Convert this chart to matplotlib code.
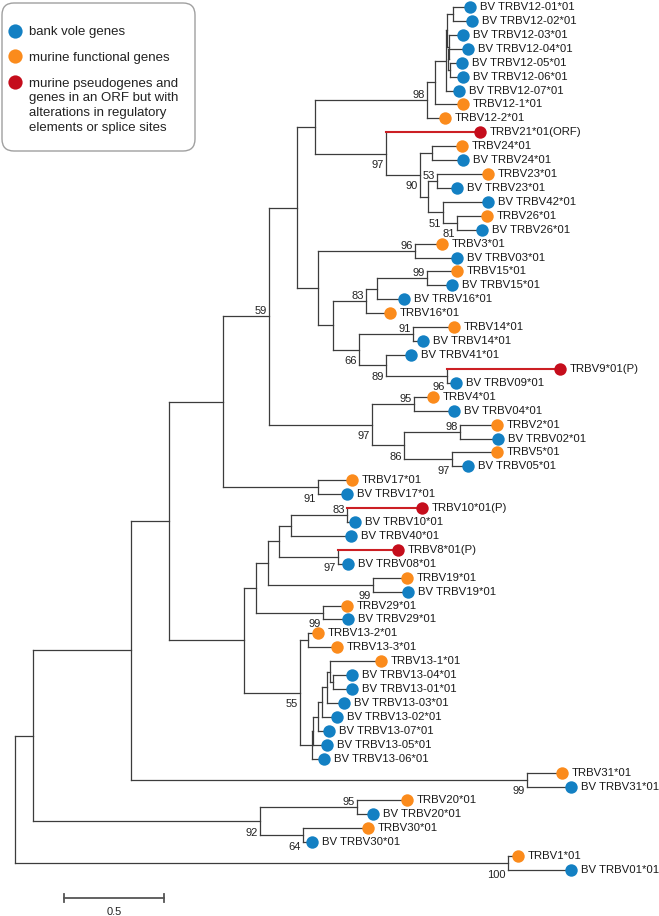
import matplotlib
matplotlib.use('Agg')
import matplotlib.pyplot as plt
from matplotlib.patches import FancyBboxPatch

plt.rcParams['font.family'] = ['Liberation Sans', 'DejaVu Sans']

# leaves, top to bottom
names = ['BV TRBV12-01*01', 'BV TRBV12-02*01', 'BV TRBV12-03*01', 'BV TRBV12-04*01',
         'BV TRBV12-05*01', 'BV TRBV12-06*01', 'BV TRBV12-07*01', 'TRBV12-1*01',
         'TRBV12-2*01', 'TRBV21*01(ORF)', 'TRBV24*01', 'BV TRBV24*01', 'TRBV23*01',
         'BV TRBV23*01', 'BV TRBV42*01', 'TRBV26*01', 'BV TRBV26*01', 'TRBV3*01',
         'BV TRBV03*01', 'TRBV15*01', 'BV TRBV15*01', 'BV TRBV16*01', 'TRBV16*01',
         'TRBV14*01', 'BV TRBV14*01', 'BV TRBV41*01', 'TRBV9*01(P)', 'BV TRBV09*01',
         'TRBV4*01', 'BV TRBV04*01', 'TRBV2*01', 'BV TRBV02*01', 'TRBV5*01',
         'BV TRBV05*01', 'TRBV17*01', 'BV TRBV17*01', 'TRBV10*01(P)', 'BV TRBV10*01',
         'BV TRBV40*01', 'TRBV8*01(P)', 'BV TRBV08*01', 'TRBV19*01', 'BV TRBV19*01',
         'TRBV29*01', 'BV TRBV29*01', 'TRBV13-2*01', 'TRBV13-3*01', 'TRBV13-1*01',
         'BV TRBV13-04*01', 'BV TRBV13-01*01', 'BV TRBV13-03*01', 'BV TRBV13-02*01',
         'BV TRBV13-07*01', 'BV TRBV13-05*01', 'BV TRBV13-06*01', 'TRBV31*01',
         'BV TRBV31*01', 'TRBV20*01', 'BV TRBV20*01', 'TRBV30*01', 'BV TRBV30*01',
         'TRBV1*01', 'BV TRBV01*01']

# bv = bank vole, mf = murine functional, ps = murine pseudogene / ORF
kinds = ['bv', 'bv', 'bv', 'bv', 'bv', 'bv', 'bv', 'mf', 'mf', 'ps', 'mf', 'bv', 'mf',
         'bv', 'bv', 'mf', 'bv', 'mf', 'bv', 'mf', 'bv', 'bv', 'mf', 'mf', 'bv', 'bv',
         'ps', 'bv', 'mf', 'bv', 'mf', 'bv', 'mf', 'bv', 'mf', 'bv', 'ps', 'bv', 'bv',
         'ps', 'bv', 'mf', 'bv', 'mf', 'bv', 'mf', 'mf', 'mf', 'bv', 'bv', 'bv', 'bv',
         'bv', 'bv', 'bv', 'mf', 'bv', 'mf', 'bv', 'mf', 'bv', 'mf', 'bv']

# distance of each tip from the root
tip_dist = [2.275, 2.285, 2.240, 2.265, 2.235, 2.240, 2.220, 2.240, 2.150, 2.325,
            2.235, 2.240, 2.365, 2.210, 2.365, 2.360, 2.335, 2.135, 2.210, 2.210,
            2.185, 1.945, 1.875, 2.195, 2.040, 1.980, 2.725, 2.205, 2.090, 2.195,
            2.410, 2.415, 2.410, 2.265, 1.685, 1.660, 2.035, 1.700, 1.680, 1.915,
            1.665, 1.960, 1.965, 1.660, 1.665, 1.515, 1.610, 1.830, 1.685, 1.685,
            1.645, 1.610, 1.570, 1.560, 1.545, 2.735, 2.780, 1.960, 1.790, 1.765,
            1.485, 2.515, 2.780]


def nd(d, kids, boot='', side='a'):
    return {'d': d, 'kids': kids, 'boot': boot, 'side': side}


# topology: internal node = distance from root, children, bootstrap, label side
bv12 = nd(2.155, [nd(2.160, [nd(2.190, [0, 1]),
                             nd(2.170, [2, nd(2.165, [3, nd(2.175, [4, 5])])])]), 6])
clade_a = nd(1.500, [
    nd(2.060, [nd(2.100, [bv12, 7]), 8], '98', 'a'),
    nd(1.855, [9, nd(2.025, [nd(2.085, [10, 11]),
                             nd(2.065, [nd(2.110, [12, 13], '53', 'a'),
                                        nd(2.140, [14, nd(2.210, [15, 16], '81', 'b')], '51', 'b')])],
                     '90', 'b')], '97', 'b')])
clade_b = nd(1.515, [
    nd(2.000, [17, 18], '96', 'a'),
    nd(1.590, [nd(1.755, [nd(1.810, [nd(2.060, [19, 20], '99', 'a'), 21]), 22], '83', 'a'),
               nd(1.720, [nd(1.990, [23, 24], '91', 'a'),
                          nd(1.855, [25, nd(2.160, [26, 27], '96', 'b')], '89', 'b')],
                  '66', 'b')])])
clade_c = nd(1.785, [nd(1.995, [28, 29], '95', 'a'),
                     nd(1.945, [nd(2.225, [30, 31], '98', 'a'),
                                nd(2.185, [32, 33], '97', 'b')], '86', 'b')], '97', 'b')
clade_k = nd(1.040, [nd(1.270, [nd(1.410, [clade_a, clade_b]), clade_c], '59', 'a'),
                     nd(1.515, [34, 35], '91', 'b')])
bv13 = nd(1.485, [nd(1.490, [nd(1.515, [nd(1.535, [nd(1.560, [nd(1.575, [47, nd(1.590, [48, 49])]),
                                                                50]), 51]), 52]), 53]), 54])
clade_w = nd(1.145, [
    nd(1.205, [nd(1.265, [nd(1.320, [nd(1.380, [nd(1.660, [36, 37], '83', 'a'), 38]),
                                     nd(1.615, [39, 40], '97', 'b')]),
                          nd(1.790, [41, 42], '99', 'b')]),
               nd(1.540, [43, 44], '99', 'b')]),
    nd(1.425, [nd(1.465, [45, 46]), bv13], '55', 'b')])
tree = nd(0.0, [
    nd(0.090, [nd(0.580, [nd(0.770, [clade_k, clade_w]), nd(2.560, [55, 56], '99', 'b')]),
               nd(1.225, [nd(1.710, [57, 58], '95', 'a'), nd(1.440, [59, 60], '64', 'b')],
                  '92', 'b')]),
    nd(2.465, [61, 62], '100', 'b')])

scale_len = 0.5

colors = {'bv': '#1380c3', 'mf': '#fb8b1c', 'ps': '#c50d1c'}
line_col = '#3c3c3c'
red_line = '#cc1f24'

fig = plt.figure(figsize=(6.59, 9.16), dpi=100)
ax = fig.add_axes([0, 0, 1, 1])
ax.set_xlim(-0.075, 3.22)
ax.set_ylim(65.3, -0.503)
ax.axis('off')


def draw(node):
    if isinstance(node, int):
        return tip_dist[node], node
    d = node['d']
    ys = []
    for k in node['kids']:
        kx, ky = draw(k)
        if isinstance(k, int) and kinds[k] == 'ps':
            ax.plot([d, kx], [ky, ky], color=red_line, lw=1.5, zorder=2)
        else:
            ax.plot([d, kx], [ky, ky], color=line_col, lw=0.9, zorder=1)
        ys.append(ky)
    ax.plot([d, d], [min(ys), max(ys)], color=line_col, lw=0.9, zorder=1)
    y = (ys[0] + ys[-1]) / 2
    if node['boot']:
        if node['side'] == 'a':
            ax.text(d - 0.012, y - 0.36, node['boot'], ha='right', va='center',
                    fontsize=8, color='#222222')
        else:
            ax.text(d - 0.012, y + 0.82, node['boot'], ha='right', va='center',
                    fontsize=8, color='#222222')
    return d, y


draw(tree)

for i, nm in enumerate(names):
    ax.scatter(tip_dist[i], i, s=80, color=colors[kinds[i]], zorder=3, linewidths=0)
    ax.text(tip_dist[i] + 0.048, i, nm, ha='left', va='center', fontsize=8.2,
            color='#1a1a1a')

# scale bar
sb_x0 = 0.245
sb_y = 64.0
ax.plot([sb_x0, sb_x0 + scale_len], [sb_y, sb_y], color='#555555', lw=1.3)
for xx in [sb_x0, sb_x0 + scale_len]:
    ax.plot([xx, xx], [sb_y - 0.28, sb_y + 0.28], color='#555555', lw=1.3)
ax.text(sb_x0 + scale_len / 2, sb_y + 1.0, str(scale_len), ha='center', va='center',
        fontsize=8, color='#222222')

# legend box (pixel coordinates)
lg = fig.add_axes([0, 0, 1, 1])
lg.set_xlim(0, 659)
lg.set_ylim(916, 0)
lg.axis('off')
lg.add_patch(FancyBboxPatch((2, 3), 193, 148, boxstyle='round,pad=0,rounding_size=12',
                            facecolor='white', edgecolor='#a0a0a0', lw=1.0))
leg_labels = ['bank vole genes', 'murine functional genes',
              'murine pseudogenes and\ngenes in an ORF but with\nalterations in regulatory\nelements or splice sites']
leg_kinds = ['bv', 'mf', 'ps']
leg_y = [31, 56, 82]
for lab, k, yy in zip(leg_labels, leg_kinds, leg_y):
    lg.scatter(15, yy, s=105, color=colors[k], linewidths=0)
    lg.text(29, yy - 4.5, lab, ha='left', va='top', fontsize=9.5, color='#222222',
            linespacing=1.32)

fig.savefig('out.png', dpi=100)
